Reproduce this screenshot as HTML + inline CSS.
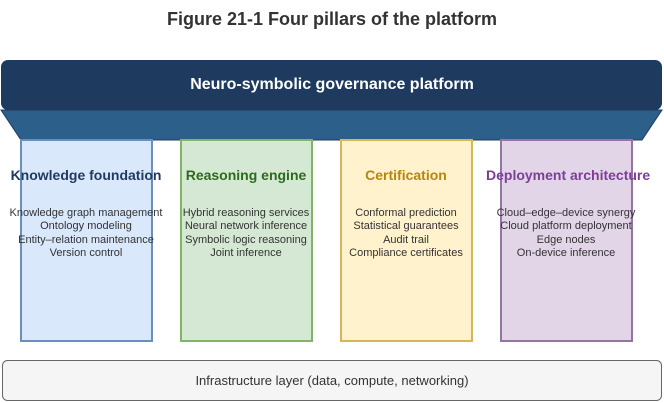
<!DOCTYPE html>
<html><head><style>
body{margin:0;width:664px;height:403px;background:#fff;font-family:"Liberation Sans",Arial,sans-serif;position:relative;overflow:hidden}
.a{position:absolute}
.p{position:absolute;top:139px;width:129px;height:199px;border:2px solid}
.t{position:absolute;top:167px;width:160px;text-align:center;font-size:14px;font-weight:bold;white-space:nowrap}
.l{position:absolute;top:207px;width:160px;text-align:center;font-size:11px;line-height:13.3px;color:#333;white-space:nowrap}
</style></head><body>
<div class="a" style="top:9px;left:0;width:664px;text-align:center;font-size:18px;font-weight:bold;color:#333">Figure 21-1 Four pillars of the platform</div>
<svg class="a" style="left:0;top:0" width="664" height="403">
<polygon points="1,110 662,110 642,140 21,140" fill="#2c5f8a" stroke="#1e3a5f" stroke-width="1"/>
<rect x="1" y="60" width="661" height="50" rx="7" fill="#1e3a5f"/>
<rect x="2.5" y="360.5" width="659" height="40" rx="5" fill="#f5f5f5" stroke="#666"/>
</svg>
<div class="a" style="top:76px;left:0;width:664px;text-align:center;color:#fff;font-size:16px;font-weight:bold">Neuro-symbolic governance platform</div>
<div class="p" style="left:20px;background:#dae8fc;border-color:#6c8ebf"></div>
<div class="p" style="left:180px;background:#d5e8d4;border-color:#82b366"></div>
<div class="p" style="left:340px;background:#fff2cc;border-color:#d6b656"></div>
<div class="p" style="left:500px;background:#e1d5e7;border-color:#9673a6"></div>
<div class="t" style="left:6px;color:#1e3a5f">Knowledge foundation</div>
<div class="t" style="left:166px;color:#2d6a1f">Reasoning engine</div>
<div class="t" style="left:326px;color:#b8860b">Certification</div>
<div class="t" style="left:486px;color:#7b3f98">Deployment architecture</div>
<div class="l" style="left:6px">Knowledge graph management<br>Ontology modeling<br>Entity–relation maintenance<br>Version control</div>
<div class="l" style="left:166px">Hybrid reasoning services<br>Neural network inference<br>Symbolic logic reasoning<br>Joint inference</div>
<div class="l" style="left:326px">Conformal prediction<br>Statistical guarantees<br>Audit trail<br>Compliance certificates</div>
<div class="l" style="left:486px">Cloud–edge–device synergy<br>Cloud platform deployment<br>Edge nodes<br>On-device inference</div>
<div class="a" style="top:373px;left:0;width:664px;text-align:center;font-size:13px;color:#333">Infrastructure layer (data, compute, networking)</div>
</body></html>
